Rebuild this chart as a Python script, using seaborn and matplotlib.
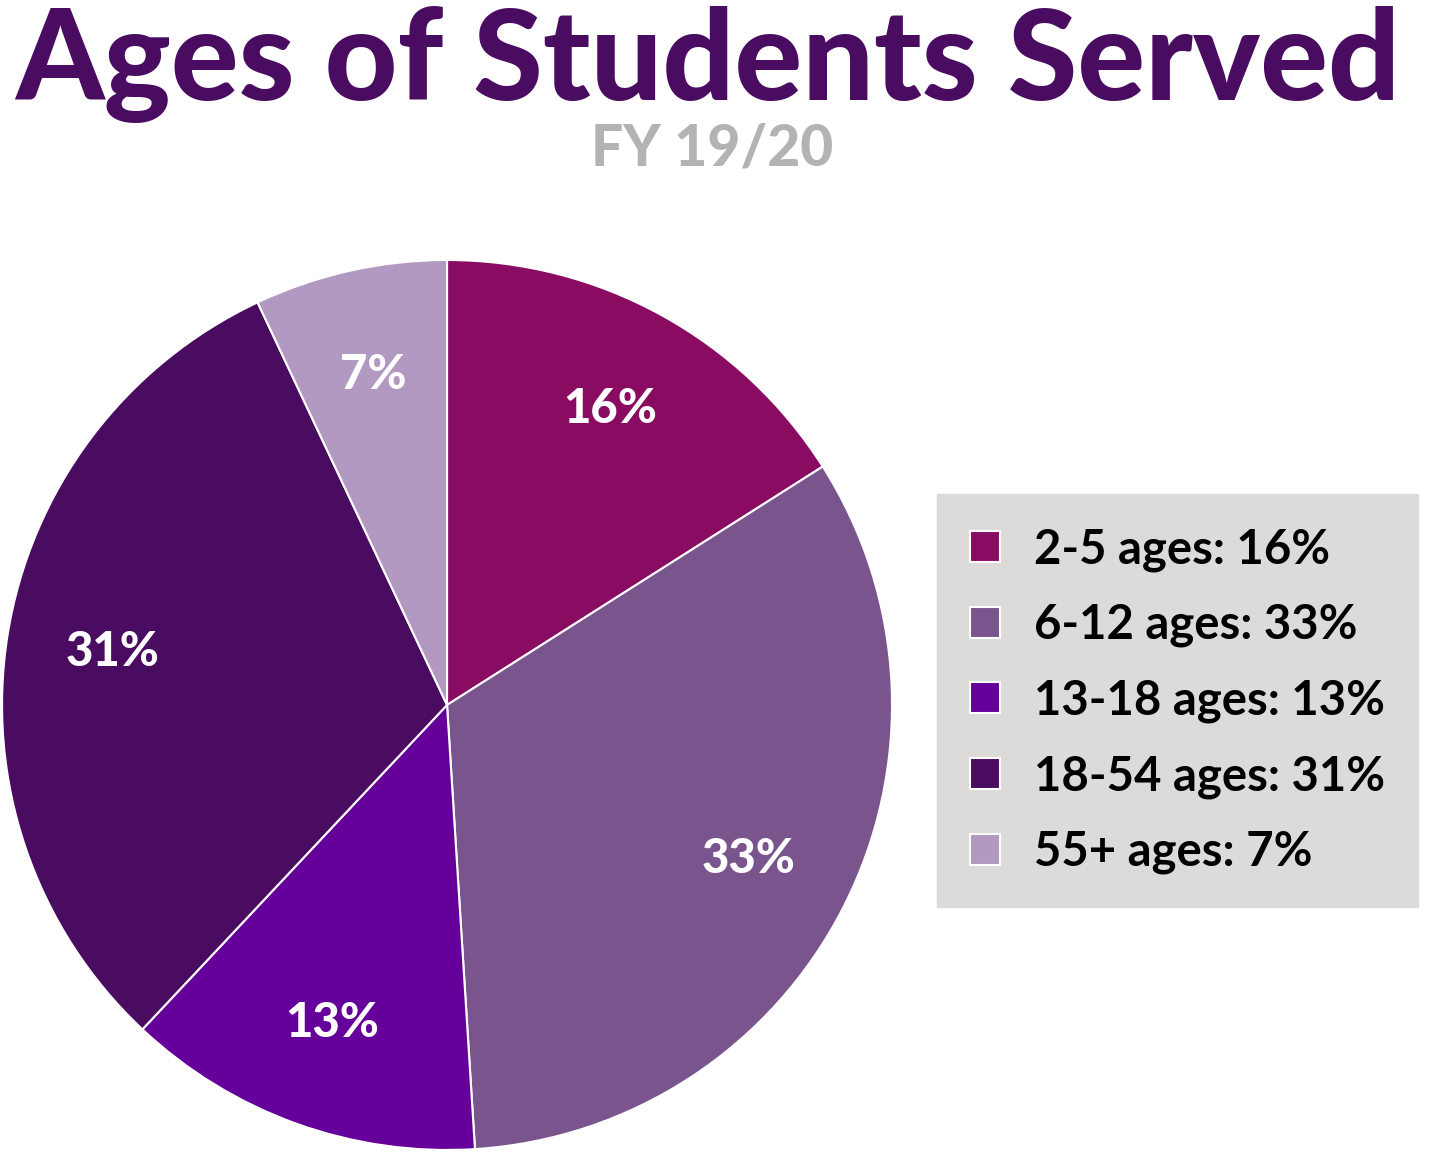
import matplotlib
matplotlib.use("Agg")
import matplotlib.pyplot as plt
import seaborn as sns

# Data
age_groups = ["2-5 ages", "6-12 ages", "13-18 ages", "18-54 ages", "55+ ages"]
shares = [16, 33, 13, 31, 7]
slice_colours = ["#8A0C62", "#7A558D", "#66009A", "#4A0C60", "#B299C1"]

sns.set_theme(style="white")
plt.rcParams["font.family"] = ["Lato", "DejaVu Sans"]

fig = plt.figure(figsize=(14.36, 11.54), dpi=100)
fig.patch.set_facecolor("white")

# Title block
fig.text(0.4925, 1 - 100 / 1154, "Ages of Students Served", ha="center", va="baseline",
         fontsize=91, fontweight="black", color="#4A0C60")
fig.text(0.496, 1 - 165 / 1154, "FY 19/20", ha="center", va="baseline",
         fontsize=41, fontweight="black", color="#B3B3B3")

# Pie
ax = fig.add_axes([0.0014, 0.0035, 0.6198, 0.7712])
wedges, texts, autotexts = ax.pie(
    shares, colors=slice_colours, startangle=90, counterclock=False,
    autopct="%d%%", pctdistance=0.76,
    wedgeprops=dict(edgecolor="white", linewidth=1.5),
    textprops=dict(color="white", fontsize=34, fontweight="black"))
ax.set_xlim(-1, 1)
ax.set_ylim(-1, 1)
ax.set_aspect("equal")

# Legend
labels = [f"{g}: {s}%" for g, s in zip(age_groups, shares)]
leg = fig.legend(wedges, labels, loc="upper left", bbox_to_anchor=(937 / 1436, 1 - 494 / 1154),
                 borderaxespad=0, frameon=True, fancybox=False, framealpha=1,
                 prop=dict(size=34, weight="bold"),
                 handlelength=0.64, handleheight=0.64, handletextpad=0.72,
                 labelspacing=0.66, borderpad=0.7)
leg.get_frame().set_facecolor("#DCDBDA")
leg.get_frame().set_edgecolor("#DCDBDA")
for t in leg.get_texts():
    t.set_color("black")

fig.savefig("out.png", dpi=100)
